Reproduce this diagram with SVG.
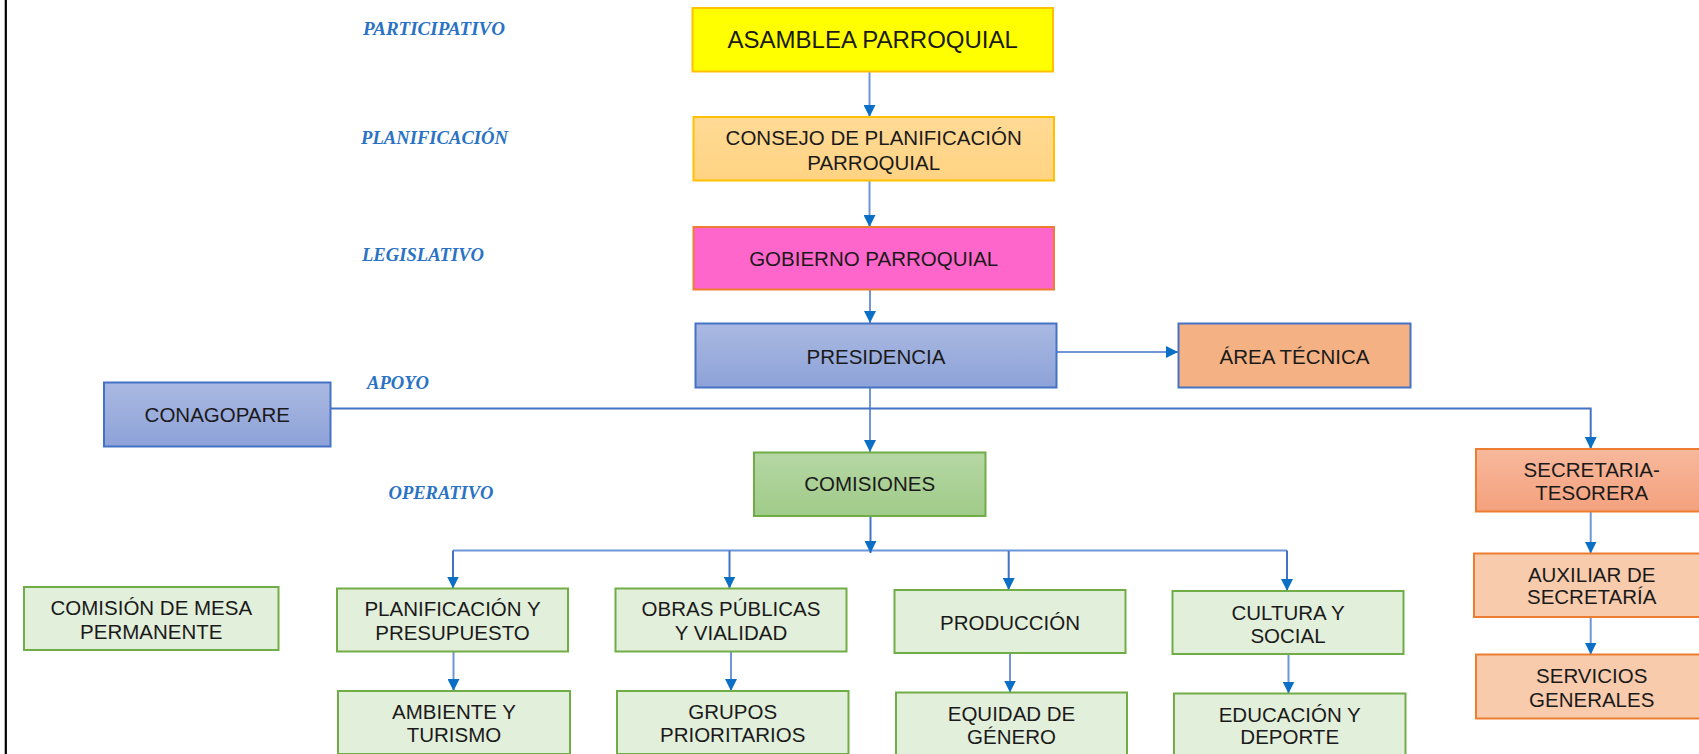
<svg xmlns="http://www.w3.org/2000/svg" width="1699" height="754" viewBox="0 0 1699 754">
<defs>
<linearGradient id="gBlue" x1="0" y1="0" x2="0" y2="1"><stop offset="0" stop-color="#AAB9E2"/><stop offset="1" stop-color="#8DA2D8"/></linearGradient>
<linearGradient id="gGreen" x1="0" y1="0" x2="0" y2="1"><stop offset="0" stop-color="#B6D7A4"/><stop offset="1" stop-color="#A0CB89"/></linearGradient>
<linearGradient id="gSalmon" x1="0" y1="0" x2="0" y2="1"><stop offset="0" stop-color="#F7B89C"/><stop offset="1" stop-color="#F4A17D"/></linearGradient>
<linearGradient id="gGold" x1="0" y1="0" x2="0" y2="1"><stop offset="0" stop-color="#FFDA95"/><stop offset="1" stop-color="#FFD382"/></linearGradient>
<marker id="arr" markerUnits="userSpaceOnUse" markerWidth="12" markerHeight="12" refX="12" refY="6" orient="auto" viewBox="0 0 12 12"><path d="M0,0 L12,6 L0,12 z" fill="#0B6FC6"/></marker>
</defs>
<style>
.t{font-family:"Liberation Sans",Arial,sans-serif;font-size:20.5px;fill:#1a1a1a;text-anchor:middle}
.lbl{font-family:"Liberation Serif","Times New Roman",serif;font-size:18px;font-weight:bold;font-style:italic;fill:#2A72C4}
.c{fill:none;stroke:#6F96D9;stroke-width:2}
.c2{fill:none;stroke:#4472C4;stroke-width:2}
.lg{fill:#E2EFDA;stroke:#70AD47;stroke-width:2}
.pk{fill:#F8CBAD;stroke:#ED7D31;stroke-width:2}
</style>
<rect x="0" y="0" width="1699" height="754" fill="#ffffff"/>
<line x1="5.8" y1="0" x2="5.8" y2="754" stroke="#000" stroke-width="2.2"/>

<g id="labels">
<text class="lbl" x="363" y="35" textLength="142" lengthAdjust="spacingAndGlyphs">PARTICIPATIVO</text>
<text class="lbl" x="361" y="144" textLength="147" lengthAdjust="spacingAndGlyphs">PLANIFICACIÓN</text>
<text class="lbl" x="362" y="261" textLength="122" lengthAdjust="spacingAndGlyphs">LEGISLATIVO</text>
<text class="lbl" x="367" y="389" textLength="62" lengthAdjust="spacingAndGlyphs">APOYO</text>
<text class="lbl" x="388.5" y="499" textLength="105" lengthAdjust="spacingAndGlyphs">OPERATIVO</text>
</g>

<g id="connectors">
<path class="c" d="M869.5,72 V117" marker-end="url(#arr)"/>
<path class="c" d="M869.5,181 V227" marker-end="url(#arr)"/>
<path class="c" d="M870,289 V323" marker-end="url(#arr)"/>
<path class="c" d="M1056,352 H1178" marker-end="url(#arr)"/>
<path class="c" d="M870,388 V452" marker-end="url(#arr)"/>
<path class="c2" d="M330,408.5 H1590.7 V449" marker-end="url(#arr)"/>
<path class="c" d="M453,550.5 H1287"/>
<path class="c2" d="M870.5,516 V553" marker-end="url(#arr)"/>
<path class="c2" d="M453,550.5 V588.5" marker-end="url(#arr)"/>
<path class="c2" d="M729.5,550.5 V588.5" marker-end="url(#arr)"/>
<path class="c2" d="M1008.7,551 V590" marker-end="url(#arr)"/>
<path class="c2" d="M1287,550.5 V591" marker-end="url(#arr)"/>
<path class="c" d="M453.5,652 V691" marker-end="url(#arr)"/>
<path class="c" d="M731,652 V691" marker-end="url(#arr)"/>
<path class="c" d="M1010,653.5 V692.5" marker-end="url(#arr)"/>
<path class="c" d="M1288.5,654.5 V693.5" marker-end="url(#arr)"/>
<path class="c" d="M1590.7,512 V553.5" marker-end="url(#arr)"/>
<path class="c" d="M1590.7,617 V654.5" marker-end="url(#arr)"/>
</g>

<g id="asamblea">
<rect x="692.5" y="8" width="360.5" height="63.5" fill="#FFFF00" stroke="#FFC000" stroke-width="2"/>
<text class="t" x="872.7" y="48" style="font-size:24px">ASAMBLEA PARROQUIAL</text>
</g>
<g id="consejo">
<rect x="693.5" y="117" width="360.5" height="63.5" fill="url(#gGold)" stroke="#FFC000" stroke-width="2"/>
<text class="t" x="873.7" y="144.7">CONSEJO DE PLANIFICACIÓN</text>
<text class="t" x="873.7" y="169.7">PARROQUIAL</text>
</g>
<g id="gobierno">
<rect x="693.5" y="227" width="360.5" height="62.5" fill="#FF66CC" stroke="#ED7D31" stroke-width="2"/>
<text class="t" x="873.7" y="265.5">GOBIERNO PARROQUIAL</text>
</g>
<g id="presidencia">
<rect x="695.5" y="323.5" width="361" height="64" fill="url(#gBlue)" stroke="#4472C4" stroke-width="2"/>
<text class="t" x="876" y="364">PRESIDENCIA</text>
</g>
<g id="area-tecnica">
<rect x="1178.5" y="323.5" width="232" height="64" fill="#F4B183" stroke="#4472C4" stroke-width="2"/>
<text class="t" x="1294.5" y="364">ÁREA TÉCNICA</text>
</g>
<g id="conagopare">
<rect x="104" y="382.5" width="226.5" height="64" fill="url(#gBlue)" stroke="#4472C4" stroke-width="2"/>
<text class="t" x="217.3" y="421.7">CONAGOPARE</text>
</g>
<g id="comisiones">
<rect x="754" y="452.5" width="231.5" height="63.5" fill="url(#gGreen)" stroke="#70AD47" stroke-width="2"/>
<text class="t" x="869.7" y="490.7">COMISIONES</text>
</g>
<g id="mesa-permanente">
<rect class="lg" x="24" y="587" width="254.5" height="63"/>
<text class="t" x="151.3" y="614.7">COMISIÓN DE MESA</text>
<text class="t" x="151.3" y="639">PERMANENTE</text>
</g>
<g id="planificacion">
<rect class="lg" x="337" y="588.5" width="231" height="63"/>
<text class="t" x="452.5" y="615.7">PLANIFICACIÓN Y</text>
<text class="t" x="452.5" y="640">PRESUPUESTO</text>
</g>
<g id="ambiente">
<rect class="lg" x="338" y="691" width="232" height="63"/>
<text class="t" x="454" y="719">AMBIENTE Y</text>
<text class="t" x="454" y="742.4">TURISMO</text>
</g>
<g id="obras">
<rect class="lg" x="615.5" y="588.5" width="231" height="63"/>
<text class="t" x="731" y="615.7">OBRAS PÚBLICAS</text>
<text class="t" x="731" y="640.4">Y VIALIDAD</text>
</g>
<g id="grupos">
<rect class="lg" x="617" y="691" width="231.5" height="63"/>
<text class="t" x="732.7" y="719">GRUPOS</text>
<text class="t" x="732.7" y="742.4">PRIORITARIOS</text>
</g>
<g id="produccion">
<rect class="lg" x="894.5" y="590" width="231" height="63"/>
<text class="t" x="1010" y="629.7">PRODUCCIÓN</text>
</g>
<g id="equidad">
<rect class="lg" x="896" y="692.5" width="231" height="63"/>
<text class="t" x="1011.5" y="720.7">EQUIDAD DE</text>
<text class="t" x="1011.5" y="744">GÉNERO</text>
</g>
<g id="cultura">
<rect class="lg" x="1172.5" y="591" width="231" height="63"/>
<text class="t" x="1288" y="619.7">CULTURA Y</text>
<text class="t" x="1288" y="643">SOCIAL</text>
</g>
<g id="educacion">
<rect class="lg" x="1174" y="693.5" width="231.5" height="63"/>
<text class="t" x="1289.7" y="721.5">EDUCACIÓN Y</text>
<text class="t" x="1289.7" y="744">DEPORTE</text>
</g>
<g id="secretaria">
<rect x="1476" y="449" width="232" height="62.5" fill="url(#gSalmon)" stroke="#ED7D31" stroke-width="2"/>
<text class="t" x="1591.7" y="477.4">SECRETARIA-</text>
<text class="t" x="1591.7" y="500">TESORERA</text>
</g>
<g id="auxiliar">
<rect class="pk" x="1474" y="553.5" width="234" height="63.5"/>
<text class="t" x="1591.7" y="581.7">AUXILIAR DE</text>
<text class="t" x="1591.7" y="604">SECRETARÍA</text>
</g>
<g id="servicios">
<rect class="pk" x="1476" y="654.5" width="232" height="64"/>
<text class="t" x="1591.7" y="683.4">SERVICIOS</text>
<text class="t" x="1591.7" y="706.7">GENERALES</text>
</g>
</svg>
